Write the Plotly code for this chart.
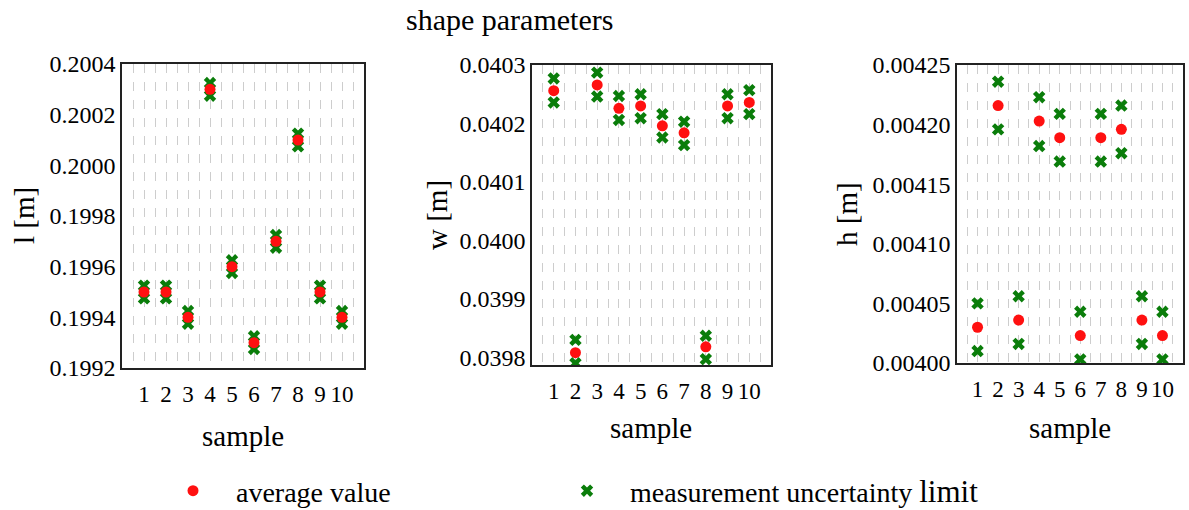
import plotly.graph_objects as go

samples = [1, 2, 3, 4, 5, 6, 7, 8, 9, 10]

l_avg = [0.19950, 0.19950, 0.19940, 0.20030, 0.19960, 0.19930, 0.19970, 0.20010, 0.19950, 0.19940]
l_upper = [0.199525, 0.199525, 0.199425, 0.200325, 0.199625, 0.199325, 0.199725, 0.200125, 0.199525, 0.199425]
l_lower = [0.199475, 0.199475, 0.199375, 0.200275, 0.199575, 0.199275, 0.199675, 0.200075, 0.199475, 0.199375]

w_avg = [0.040256, 0.039808, 0.040266, 0.040226, 0.040230, 0.040196, 0.040184, 0.039818, 0.040230, 0.040236]
w_upper = [0.040277, 0.039830, 0.040287, 0.040247, 0.040250, 0.040216, 0.040203, 0.039837, 0.040250, 0.040257]
w_lower = [0.040236, 0.039790, 0.040246, 0.040206, 0.040209, 0.040176, 0.040163, 0.039797, 0.040209, 0.040216]

h_avg = [0.004030, 0.004216, 0.004036, 0.004203, 0.004189, 0.004023, 0.004189, 0.004196, 0.004036, 0.004023]
h_upper = [0.004050, 0.004236, 0.004056, 0.004223, 0.004209, 0.004043, 0.004209, 0.004216, 0.004056, 0.004043]
h_lower = [0.004010, 0.004196, 0.004016, 0.004182, 0.004169, 0.004003, 0.004169, 0.004176, 0.004016, 0.004003]

panels = [
    ("l [m]", l_avg, l_upper, l_lower, [0.1992, 0.2004], 0.0002, ".4f"),
    ("w [m]", w_avg, w_upper, w_lower, [0.039787, 0.0403], 0.0001, ".4f"),
    ("h [m]", h_avg, h_upper, h_lower, [0.0040, 0.00425], 0.00005, ".5f"),
]

W, H = 1189, 510
boxes = [(122, 364, 64, 368), (532, 771, 65, 365), (957, 1183, 65, 363)]
ytitle_x = [24, 437, 847]
xtitle_y = [436, 428, 428]

FONT = "Liberation Serif"
GREEN = "#0a7d0a"
RED = "#ff1010"

def f(size):
    return dict(family=FONT, size=size, color="black")

fig = go.Figure()
layout = dict(
    width=W, height=H, margin=dict(l=0, r=0, t=0, b=0, autoexpand=False),
    paper_bgcolor="white", plot_bgcolor="white",
    font=f(23), showlegend=True,
)
annotations = []
for i, (ytitle, avg, up, lo, yr, dt, fmt) in enumerate(panels):
    n = "" if i == 0 else str(i + 1)
    xa, ya = "x" + n, "y" + n
    fig.add_trace(go.Scatter(
        x=samples + samples, y=up + lo, mode="markers", xaxis=xa, yaxis=ya,
        marker=dict(symbol="x", size=11, color=GREEN, line=dict(width=0)),
        name="measurement uncertainty <span style='font-size:31px'>limit</span>",
        showlegend=(i == 0), legend="legend2",
    ))
    fig.add_trace(go.Scatter(
        x=samples, y=avg, mode="markers", xaxis=xa, yaxis=ya,
        marker=dict(symbol="circle", size=11, color=RED, line=dict(width=0)),
        name="average value", showlegend=(i == 0), legend="legend",
    ))
    x0, x1, y0, y1 = boxes[i]
    layout["xaxis" + n] = dict(
        domain=[x0 / W, x1 / W], range=[0, 11], anchor=ya, automargin=False,
        tickvals=samples, ticks="", showgrid=False, zeroline=False,
        showline=True, mirror=True, linecolor="#222", linewidth=1.5,
        ticklabelstandoff=5, tickfont=f(23),
        minor=dict(tickvals=[k * 0.5 for k in range(1, 22)], showgrid=True,
                   gridcolor="#cdcdcd", griddash="dash", gridwidth=1, ticks=""),
    )
    layout["yaxis" + n] = dict(
        domain=[1 - y1 / H, 1 - y0 / H], range=yr, anchor=xa, automargin=False,
        dtick=dt, tick0=yr[0] if i != 1 else 0.0398, tickformat=fmt, ticks="",
        showgrid=False, zeroline=False, showline=True, mirror=True,
        linecolor="#222", linewidth=1.5, tickfont=f(24),
        ticklabelstandoff=0,
    )
    annotations.append(dict(
        text=ytitle, x=ytitle_x[i] / W, y=1 - ((y0 + y1) / 2) / H,
        xref="paper", yref="paper", showarrow=False, textangle=-90,
        xanchor="center", yanchor="middle", font=f(29),
    ))
    annotations.append(dict(
        text="sample", x=((x0 + x1) / 2) / W, y=1 - xtitle_y[i] / H,
        xref="paper", yref="paper", showarrow=False,
        xanchor="center", yanchor="middle", font=f(29),
    ))

annotations.append(dict(
    text="shape parameters", x=509 / W, y=1 - 20 / H, xref="paper", yref="paper",
    showarrow=False, xanchor="center", yanchor="middle", font=f(30),
))
layout["annotations"] = annotations
common_legend = dict(orientation="h", yanchor="middle", xanchor="left",
                     font=f(28), itemwidth=76, bgcolor="rgba(0,0,0,0)")
layout["legend"] = dict(common_legend, x=150 / W, y=1 - 491 / H)
layout["legend2"] = dict(common_legend, x=544 / W, y=1 - 491 / H)
fig.update_layout(**layout)
fig.write_html("out.html")
